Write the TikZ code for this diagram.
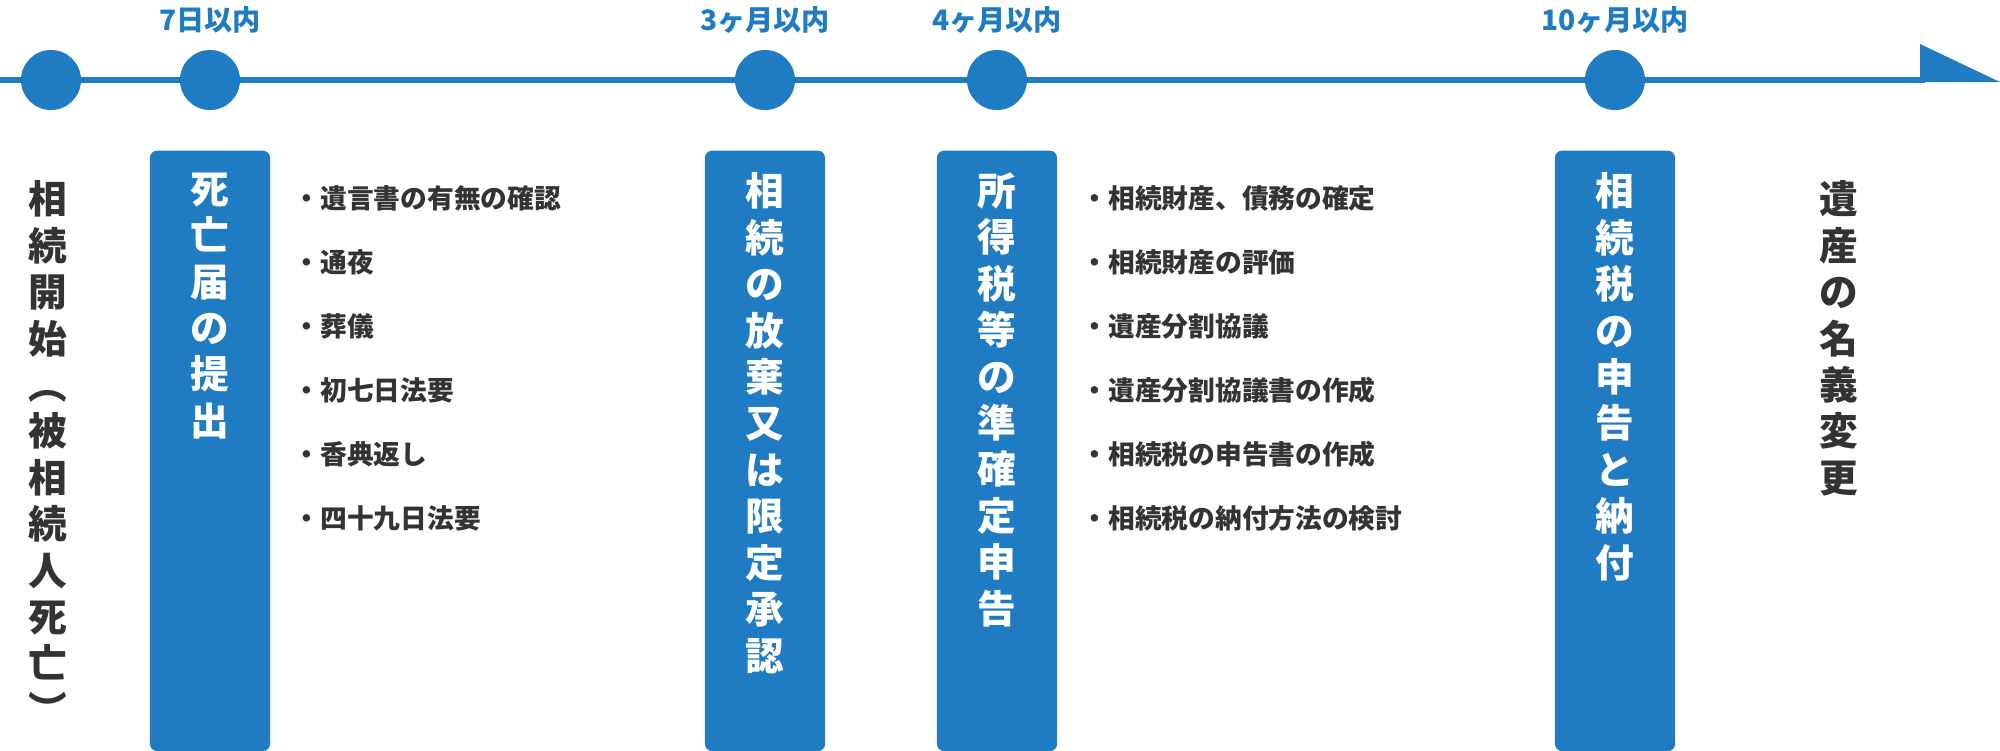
\documentclass[tikz,border=0pt]{standalone}
\usepackage{fontspec}
\setmainfont{Noto Sans CJK JP}
\usetikzlibrary{positioning}
\definecolor{tlblue}{HTML}{1F7BC2}
\definecolor{tltext}{HTML}{333333}

\begin{document}
\begin{tikzpicture}[x=0.01cm,y=-0.01cm,
  dot/.style={circle,fill=tlblue,minimum size=0.6cm,inner sep=0pt},
  when/.style={text=tlblue,font=\bfseries\fontsize{8}{9}\selectfont},
  stepbox/.style={fill=tlblue,rounded corners=2pt,minimum width=1.2cm,minimum height=6cm,anchor=north,inner sep=0pt},
  vert/.style={align=center,anchor=north,inner sep=0pt,font=\bfseries\fontsize{11}{13.2}\selectfont},
  item/.style={anchor=west,text=tltext,inner sep=0pt,font=\bfseries\fontsize{7.6}{9}\selectfont}]
\useasboundingbox (0,0) rectangle (2000,750);

% timeline
\coordinate (start) at (0,80);
\coordinate (tip) at (1925,80);
\draw[tlblue,line width=1.7pt] (start) -- (tip);
\fill[tlblue] (1920,44) -- (2000,82) -- (1920,82) -- cycle;

\node[dot] (d0) at (51,80) {};
\node[dot] (d1) at (210,80) {};
\node[dot] (d2) at (765,80) {};
\node[dot] (d3) at (997,80) {};
\node[dot] (d4) at (1615,80) {};

\node[when] (w1) at (210,20) {7日以内};
\node[when] (w2) at (765,20) {3ヶ月以内};
\node[when] (w3) at (997,20) {4ヶ月以内};
\node[when] (w4) at (1615,20) {10ヶ月以内};

% boxes
\node[stepbox] (b1) at (210,150) {};
\node[stepbox] (b2) at (765,150) {};
\node[stepbox] (b3) at (997,150) {};
\node[stepbox] (b4) at (1615,150) {};

\node[vert,white] (t1) at (210,172) {死\\亡\\届\\の\\提\\出};
\node[vert,white] (t2) at (765,172) {相\\続\\の\\放\\棄\\又\\は\\限\\定\\承\\認};
\node[vert,white] (t3) at (997,172) {所\\得\\税\\等\\の\\準\\確\\定\\申\\告};
\node[vert,white] (t4) at (1615,172) {相\\続\\税\\の\\申\\告\\と\\納\\付};

\node[vert,text=tltext] (s0) at (48,180) {相\\続\\開\\始\\︵\\被\\相\\続\\人\\死\\亡\\︶};
\node[vert,text=tltext] (s5) at (1839,180) {遺\\産\\の\\名\\義\\変\\更};

% lists
\foreach \t [count=\i] in {遺言書の有無の確認,通夜,葬儀,初七日法要,香典返し,四十九日法要}
  \node[item] (a\i) at (293,134+64*\i) {・\t};
\foreach \t [count=\i] in {相続財産、債務の確定,相続財産の評価,遺産分割協議,遺産分割協議書の作成,相続税の申告書の作成,相続税の納付方法の検討}
  \node[item] (c\i) at (1081,134+64*\i) {・\t};
\end{tikzpicture}
\end{document}
